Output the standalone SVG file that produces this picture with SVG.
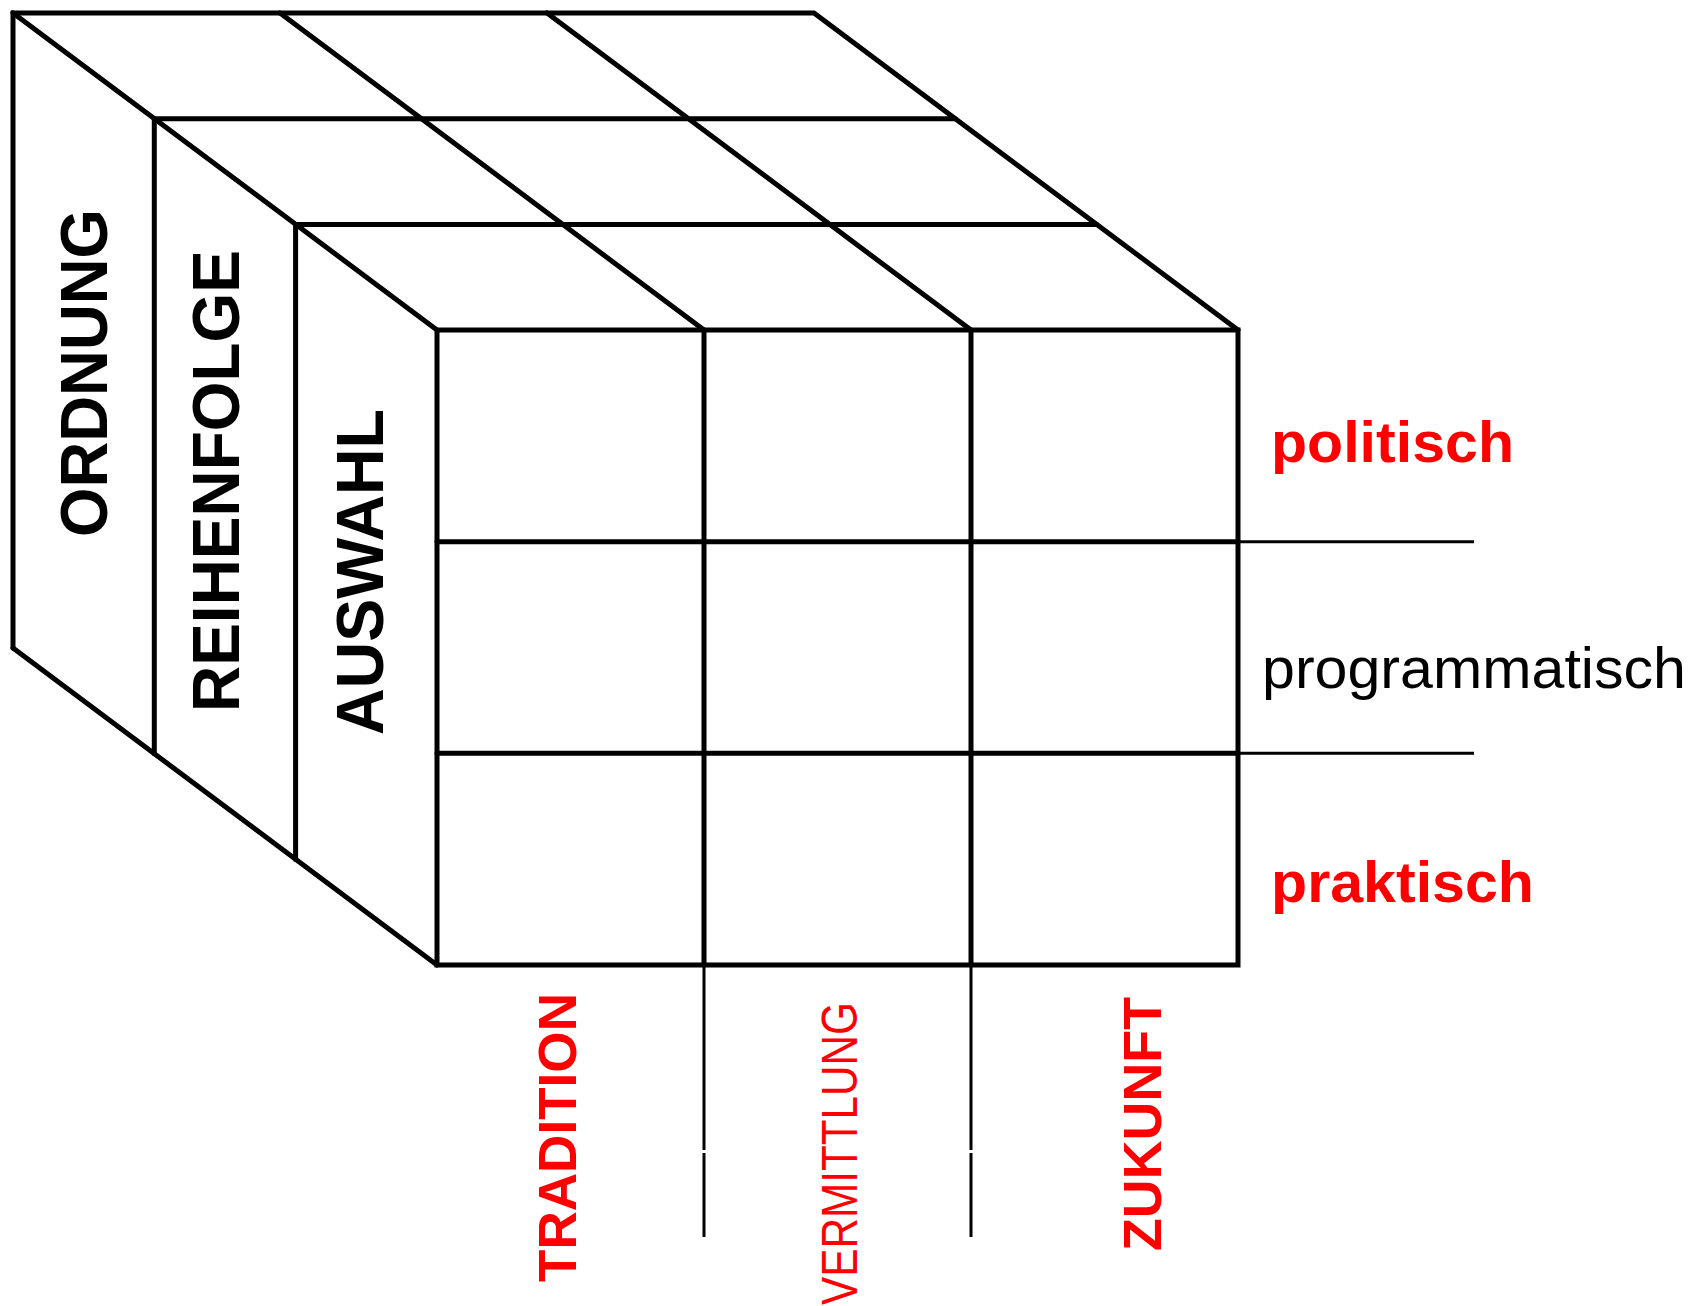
<svg xmlns="http://www.w3.org/2000/svg" width="1694" height="1306" viewBox="0 0 1694 1306">
  <style>
    .edge { fill: none; stroke: #000; stroke-width: 5; stroke-linejoin: miter; stroke-linecap: round; }
    .ext { fill: none; stroke: #000; stroke-width: 3; }
    .lbl { font-family: "Liberation Sans", Arial, sans-serif; }
    .bold { font-weight: bold; }
    .red { fill: #ff0000; }
    .blk { fill: #000; }
  </style>
  <rect width="1694" height="1306" fill="#fff"/>

  <g id="connectors">
    <!-- back layer outline and top edges -->
    <path class="edge" d="M13,648 L13,13 L814,13 L1238,330"/>
    <path class="edge" d="M154.3,753.7 L154.3,118.7 L955.3,118.7"/>
    <path class="edge" d="M295.6,859.4 L295.6,224.4 L1096.6,224.4"/>
    <!-- diagonals on top face -->
    <path class="edge" d="M13,13 L437,330"/>
    <path class="edge" d="M280,13 L704,330"/>
    <path class="edge" d="M547,13 L971,330"/>
    <!-- bottom-left diagonal -->
    <path class="edge" d="M13,648 L437,965"/>
    <!-- front face -->
    <rect class="edge" x="437" y="330" width="801" height="635"/>
    <path class="edge" d="M704,330 L704,965 M971,330 L971,965"/>
    <path class="edge" d="M437,541.7 L1238,541.7 M437,753.3 L1238,753.3"/>
    <!-- extension lines -->
    <path class="ext" d="M1238,541.7 L1474,541.7 M1238,753.3 L1474,753.3"/>
    <path class="ext" d="M704,965 L704,1150 M704,1153 L704,1237 M971,965 L971,1150 M971,1153 L971,1237"/>
  </g>

  <g id="ordnung">
    <text class="lbl bold blk" font-size="66" text-anchor="middle" textLength="328" lengthAdjust="spacingAndGlyphs" transform="translate(107,373) rotate(-90)">ORDNUNG</text>
  </g>
  <g id="reihenfolge">
    <text class="lbl bold blk" font-size="66" text-anchor="middle" textLength="462" lengthAdjust="spacingAndGlyphs" transform="translate(239,481) rotate(-90)">REIHENFOLGE</text>
  </g>
  <g id="auswahl">
    <text class="lbl bold blk" font-size="66" text-anchor="middle" textLength="326" lengthAdjust="spacingAndGlyphs" transform="translate(383,572) rotate(-90)">AUSWAHL</text>
  </g>

  <g id="politisch">
    <text class="lbl bold red" font-size="58" x="1271" y="462" textLength="243" lengthAdjust="spacingAndGlyphs">politisch</text>
  </g>
  <g id="programmatisch">
    <text class="lbl blk" font-size="58" x="1262" y="688" textLength="424" lengthAdjust="spacingAndGlyphs">programmatisch</text>
  </g>
  <g id="praktisch">
    <text class="lbl bold red" font-size="58" x="1271" y="902" textLength="263" lengthAdjust="spacingAndGlyphs">praktisch</text>
  </g>

  <g id="tradition">
    <text class="lbl bold red" font-size="54" text-anchor="middle" textLength="289" lengthAdjust="spacingAndGlyphs" transform="translate(576,1137.5) rotate(-90)">TRADITION</text>
  </g>
  <g id="vermittlung">
    <text class="lbl red" font-size="50" text-anchor="middle" textLength="303" lengthAdjust="spacingAndGlyphs" transform="translate(857,1153.5) rotate(-90)">VERMITTLUNG</text>
  </g>
  <g id="zukunft">
    <text class="lbl bold red" font-size="54" text-anchor="middle" textLength="254" lengthAdjust="spacingAndGlyphs" transform="translate(1161,1124) rotate(-90)">ZUKUNFT</text>
  </g>
</svg>
